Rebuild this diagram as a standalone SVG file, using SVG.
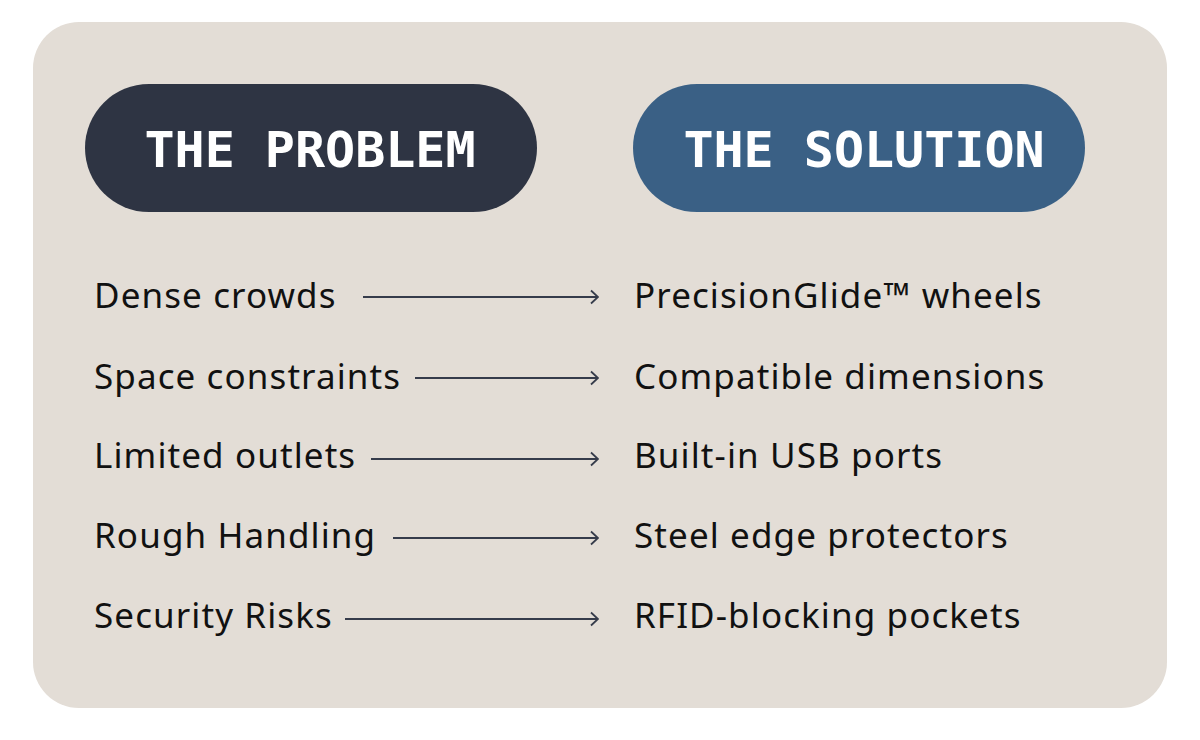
<svg xmlns="http://www.w3.org/2000/svg" width="1200" height="740" viewBox="0 0 1200 740">
<style>
.pill-t{font-family:"DejaVu Sans Mono",monospace;font-weight:bold;font-size:50px;fill:#ffffff;text-anchor:middle}
.item{font-family:"Noto Sans",Lato,sans-serif;font-size:35px;letter-spacing:1.1px;fill:#111111}
.arrow{stroke:#363c4b;stroke-width:1.8;fill:none;marker-end:url(#ah)}
</style>
<defs>
<marker id="ah" viewBox="0 0 14 16" refX="13" refY="8" markerWidth="14" markerHeight="16" markerUnits="userSpaceOnUse" orient="auto">
<path d="M6,1.5 L13,8 L6,14.5" fill="none" stroke="#363c4b" stroke-width="1.8"/>
</marker>
</defs>
<rect x="0" y="0" width="1200" height="740" fill="#ffffff"/>
<rect x="33" y="22" width="1134" height="686" rx="46" fill="#e3ddd6"/>
<g id="problem-header">
<rect x="85" y="84" width="452" height="128" rx="64" fill="#2e3443"/>
<text class="pill-t" x="310" y="167">THE PROBLEM</text>
</g>
<g id="solution-header">
<rect x="633" y="84" width="452" height="128" rx="64" fill="#3a6085"/>
<text class="pill-t" x="864" y="167">THE SOLUTION</text>
</g>
<g id="p1"><text class="item" x="94" y="308">Dense crowds</text></g>
<g id="p2"><text class="item" x="94" y="389">Space constraints</text></g>
<g id="p3"><text class="item" x="94" y="468">Limited outlets</text></g>
<g id="p4"><text class="item" x="94" y="548">Rough Handling</text></g>
<g id="p5"><text class="item" x="94" y="628">Security Risks</text></g>
<g id="s1"><text class="item" x="634" y="308">PrecisionGlide™ wheels</text></g>
<g id="s2"><text class="item" x="634" y="389">Compatible dimensions</text></g>
<g id="s3"><text class="item" x="634" y="468">Built-in USB ports</text></g>
<g id="s4"><text class="item" x="634" y="548">Steel edge protectors</text></g>
<g id="s5"><text class="item" x="634" y="628">RFID-blocking pockets</text></g>
<g id="connectors">
<line class="arrow" x1="363" y1="297" x2="598" y2="297"/>
<line class="arrow" x1="415" y1="378" x2="598" y2="378"/>
<line class="arrow" x1="371" y1="459" x2="598" y2="459"/>
<line class="arrow" x1="393" y1="538" x2="598" y2="538"/>
<line class="arrow" x1="345" y1="619" x2="598" y2="619"/>
</g>
</svg>
